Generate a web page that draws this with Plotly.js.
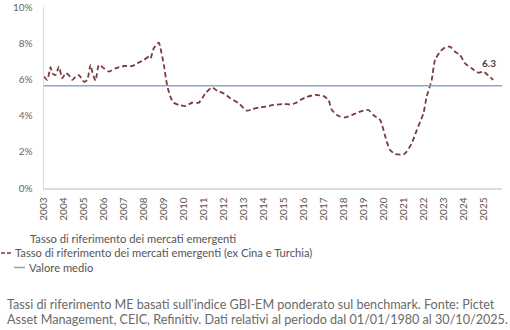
<!DOCTYPE html>
<html>
<head>
<meta charset="utf-8">
<script src="https://cdn.plot.ly/plotly-3.0.1.min.js"></script>
<style>
  html, body { margin: 0; padding: 0; background: #ffffff; }
  #chart { width: 510px; height: 330px; }
</style>
</head>
<body>
<div id="chart"></div>
<script>
// Tassi di riferimento dei mercati emergenti (ex Cina e Turchia), valori in %
const dates = [
  '2003-01','2003-03','2003-05','2003-06','2003-08','2003-10','2003-12',
  '2004-02','2004-04','2004-06','2004-08','2004-10',
  '2005-01','2005-03','2005-05','2005-06','2005-08','2005-10',
  '2006-01','2006-04','2006-08',
  '2007-01','2007-06','2007-09',
  '2008-01','2008-04','2008-05','2008-07','2008-10','2008-11',
  '2009-01','2009-03','2009-05','2009-07','2009-10',
  '2010-02','2010-06','2010-10',
  '2011-02','2011-06','2011-09',
  '2012-01','2012-05','2012-10',
  '2013-03','2013-06','2013-10',
  '2014-02','2014-07',
  '2015-01','2015-05','2015-08','2015-11',
  '2016-03','2016-08',
  '2017-01','2017-04','2017-06','2017-10',
  '2018-02','2018-06','2018-11',
  '2019-04','2019-07','2019-11',
  '2020-01','2020-03','2020-05','2020-08',
  '2021-01','2021-03','2021-06','2021-09',
  '2022-01','2022-03','2022-06','2022-08','2022-11',
  '2023-02','2023-05','2023-08','2023-11',
  '2024-02','2024-06','2024-10',
  '2025-01','2025-03','2025-07'
];
const ratesExChinaTurkey = [
  6.15, 5.97, 6.67, 6.34, 6.24, 6.70, 6.06,
  6.34, 6.24, 5.97, 6.15, 6.24,
  5.87, 5.97, 6.80, 6.43, 5.93, 6.80,
  6.61, 6.43, 6.61,
  6.74, 6.74, 6.89,
  7.07, 7.25, 7.16, 7.72, 8.03, 7.72,
  6.80, 5.69, 5.04, 4.71, 4.59,
  4.53, 4.71, 4.71,
  5.23, 5.56, 5.38,
  5.23, 4.96, 4.68,
  4.27, 4.35, 4.44,
  4.49, 4.59,
  4.64, 4.62, 4.68, 4.86,
  5.04, 5.14,
  5.08, 4.86, 4.31, 3.98,
  3.90, 4.03, 4.22,
  4.31, 4.03, 3.76,
  3.20, 2.56, 2.10, 1.88,
  1.86, 2.01, 2.47, 3.20,
  4.13, 5.04, 5.97, 7.07, 7.53,
  7.77, 7.81, 7.53, 7.35,
  6.89, 6.61, 6.37,
  6.43, 6.30, 5.97
];
const meanValue = 5.65;
const labelledDate = '2025-03';

const xRange = ['2003-01-01', '2025-12-08'];
const yTickVals = [0, 2, 4, 6, 8, 10];
const yTickText = ['0%', '2%', '4%', '6%', '8%', '10%'];

const legendNames = [
  'Tasso di riferimento dei mercati emergenti',
  'Tasso di riferimento dei mercati emergenti (ex Cina e Turchia)',
  'Valore medio'
];
const footnoteLines = [
  "Tassi di riferimento ME basati sull'indice GBI-EM ponderato sul benchmark. Fonte: Pictet",
  "Asset Management, CEIC, Refinitiv. Dati relativi al periodo dal 01/01/1980 al 30/10/2025."
];

const FONT = 'Lato, "Noto Sans", sans-serif';
const RED = '#7a3a40';
const BLUE = '#8ea7c6';
const labelIdx = dates.indexOf(labelledDate);

// geometria dell'area del grafico (pixel)
const W = 510, H = 330;
const M = { l: 44, r: 8, t: 7, b: 142 };
const PW = W - M.l - M.r, PH = H - M.t - M.b;
const px = v => (v - M.l) / PW;          // pixel orizzontale -> coordinata paper
const py = v => (H - M.b - v) / PH;      // pixel verticale  -> coordinata paper

const traces = [
  {
    x: dates, y: ratesExChinaTurkey,
    type: 'scatter', mode: 'lines',
    name: legendNames[1],
    line: { color: RED, width: 1.8, dash: '5px,3px', shape: 'spline', smoothing: 0.6 }
  },
  {
    x: xRange, y: [meanValue, meanValue],
    type: 'scatter', mode: 'lines',
    name: legendNames[2],
    line: { color: BLUE, width: 1.6 }
  }
];

// legenda compatta disegnata sotto l'asse
const legendRows = [
  { text: legendNames[0], textX: 28, y: 238, symbol: null },
  { text: legendNames[1], textX: 13, y: 252.5, symbol: { x0: 1, x1: 12, color: RED, dash: '4px,2px' } },
  { text: legendNames[2], textX: 27, y: 267, symbol: { x0: 14, x1: 25, color: BLUE, dash: 'solid' } }
];

const legendAnnotations = legendRows.map(r => ({
  xref: 'paper', yref: 'paper',
  x: px(r.textX), y: py(r.y),
  xanchor: 'left', yanchor: 'middle',
  showarrow: false,
  text: r.text,
  font: { family: FONT, size: 11.2, color: '#555555' }
}));
const legendShapes = legendRows.filter(r => r.symbol).map(r => ({
  type: 'line', xref: 'paper', yref: 'paper',
  x0: px(r.symbol.x0), x1: px(r.symbol.x1),
  y0: py(r.y + 0.5), y1: py(r.y + 0.5),
  line: { color: r.symbol.color, width: 1.6, dash: r.symbol.dash }
}));

const footnoteAnnotations = footnoteLines.map((t, i) => ({
  xref: 'paper', yref: 'paper',
  x: px(5), y: py(304 + i * 15.5),
  xanchor: 'left', yanchor: 'middle',
  align: 'left',
  showarrow: false,
  text: t,
  font: { family: FONT, size: 12.6, color: '#6a6a6a' }
}));

const layout = {
  width: W, height: H,
  margin: { l: M.l, r: M.r, t: M.t, b: M.b, autoexpand: false },
  paper_bgcolor: '#ffffff',
  plot_bgcolor: '#ffffff',
  font: { family: FONT, color: '#555555', size: 10 },
  showlegend: false,
  xaxis: {
    type: 'date',
    range: xRange,
    showgrid: false,
    zeroline: false,
    showline: true,
    linecolor: '#dcdcdc',
    linewidth: 1.5,
    ticks: '',
    dtick: 'M12',
    tick0: '2003-01-01',
    tickformat: '%Y',
    tickangle: -90,
    ticklabelstandoff: 4,
    tickfont: { family: FONT, size: 10, color: '#555555' }
  },
  yaxis: {
    range: [0, 10],
    showgrid: false,
    zeroline: false,
    showline: true,
    linecolor: '#dcdcdc',
    linewidth: 1.5,
    ticks: '',
    tickvals: yTickVals,
    ticktext: yTickText,
    ticklabelstandoff: 8,
    tickfont: { family: FONT, size: 10, color: '#666666' }
  },
  shapes: legendShapes,
  annotations: [
    {
      x: dates[labelIdx], y: ratesExChinaTurkey[labelIdx],
      xref: 'x', yref: 'y',
      text: ratesExChinaTurkey[labelIdx].toFixed(1),
      showarrow: false,
      yshift: 11, xshift: 2,
      font: { family: FONT, size: 10, color: '#444444', weight: 'bold' }
    },
    ...legendAnnotations,
    ...footnoteAnnotations
  ]
};

Plotly.newPlot('chart', traces, layout, { displayModeBar: false, staticPlot: true });
</script>
</body>
</html>
